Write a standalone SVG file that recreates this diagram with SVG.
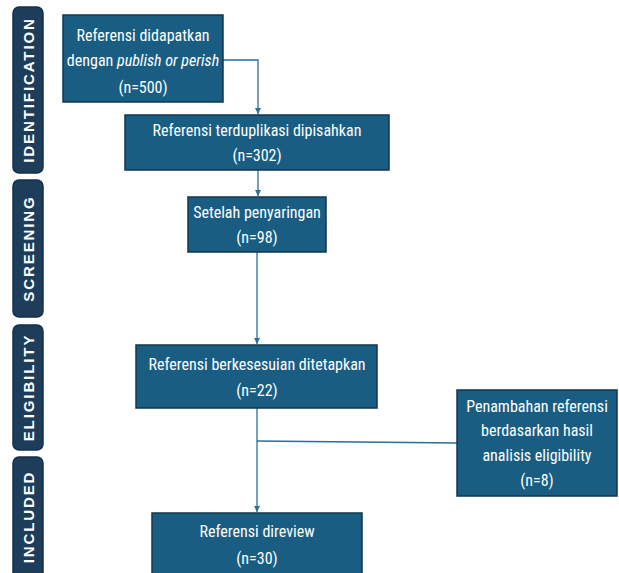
<svg xmlns="http://www.w3.org/2000/svg" width="619" height="573" viewBox="0 0 619 573">
<style>
.side{fill:#1d3d5a;stroke:#14304a;stroke-width:1.5}
.sidet{fill:#ffffff;font-family:"Liberation Sans",Arial,sans-serif;font-weight:bold;font-size:15px;letter-spacing:1.9px;text-anchor:middle}
.box{fill:#195e82;stroke:#10364d;stroke-width:1.5}
.t{fill:#ffffff;font-family:"Liberation Sans Narrow","Roboto Condensed","Liberation Sans",sans-serif;font-size:16px;text-anchor:middle}
.c{fill:none;stroke:#2b6f95;stroke-width:1.3}
</style>
<defs>
<marker id="ah" markerWidth="8" markerHeight="8" refX="6" refY="4" orient="auto" markerUnits="userSpaceOnUse">
<path d="M0,1 L6,4 L0,7 Z" fill="#2b6f95"/>
</marker>
</defs>
<rect width="619" height="573" fill="#ffffff"/>
<g id="lane-identification"><rect class="side" x="13" y="7" width="30" height="166" rx="6"/><text class="sidet" transform="translate(33.5,90) rotate(-90)">IDENTIFICATION</text></g>
<g id="lane-screening"><rect class="side" x="13" y="180" width="30" height="137" rx="6"/><text class="sidet" transform="translate(33.5,248.5) rotate(-90)">SCREENING</text></g>
<g id="lane-eligibility"><rect class="side" x="13" y="325" width="30" height="125" rx="6"/><text class="sidet" transform="translate(33.5,387.5) rotate(-90)">ELIGIBILITY</text></g>
<g id="lane-included"><rect class="side" x="13" y="457" width="30" height="126" rx="6"/><text class="sidet" transform="translate(33.5,517) rotate(-90)">INCLUDED</text></g>
<g id="connectors">
<path class="c" d="M223,60 H258 V114" marker-end="url(#ah)"/>
<path class="c" d="M258,170 V196" marker-end="url(#ah)"/>
<path class="c" d="M257,252 V344" marker-end="url(#ah)"/>
<path class="c" d="M257,408 V512" marker-end="url(#ah)"/>
<path class="c" d="M257,441 L457,443"/>
</g>
<g id="n1"><rect class="box" x="63" y="15" width="160" height="87"/>
<text class="t" x="143" y="41">Referensi didapatkan</text>
<text class="t" x="143" y="66">dengan <tspan font-style="italic">publish or perish</tspan></text>
<text class="t" x="143" y="93">(n=500)</text></g>
<g id="n2"><rect class="box" x="125" y="115" width="264" height="55"/>
<text class="t" x="257" y="136">Referensi terduplikasi dipisahkan</text>
<text class="t" x="257" y="161">(n=302)</text></g>
<g id="n3"><rect class="box" x="188" y="197" width="138" height="55"/>
<text class="t" x="257" y="218">Setelah penyaringan</text>
<text class="t" x="257" y="243">(n=98)</text></g>
<g id="n4"><rect class="box" x="136" y="345" width="241" height="63"/>
<text class="t" x="257" y="370">Referensi berkesesuian ditetapkan</text>
<text class="t" x="257" y="396">(n=22)</text></g>
<g id="n5"><rect class="box" x="457" y="390" width="160" height="106"/>
<text class="t" x="537" y="412">Penambahan referensi</text>
<text class="t" x="537" y="436">berdasarkan hasil</text>
<text class="t" x="537" y="461">analisis eligibility</text>
<text class="t" x="537" y="486">(n=8)</text></g>
<g id="n6"><rect class="box" x="152" y="513" width="210" height="70"/>
<text class="t" x="257" y="537">Referensi direview</text>
<text class="t" x="257" y="564">(n=30)</text></g>
</svg>
